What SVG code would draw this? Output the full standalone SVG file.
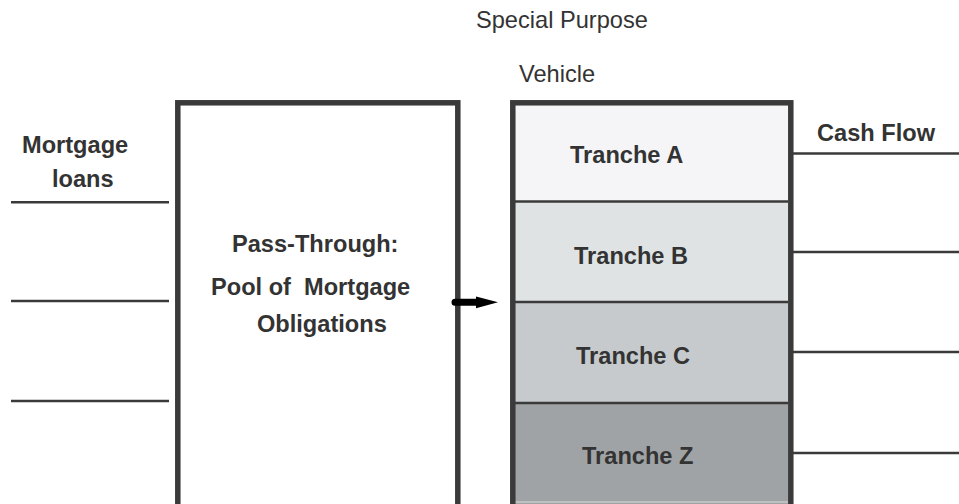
<svg xmlns="http://www.w3.org/2000/svg" width="959" height="504" viewBox="0 0 959 504">
<style>
.t{font-family:"Liberation Sans",Arial,sans-serif;font-size:23.6px;fill:#333}
.b{font-weight:bold}
.ln{stroke:#3a3a3a;stroke-width:2.5;fill:none}
.box{stroke:#3a3a3a;stroke-width:5.5;fill:#fff}
.div{stroke:#3a3a3a;stroke-width:2.5}
</style>
<rect width="959" height="504" fill="#fff"/>
<g id="title">
<text class="t" x="476" y="28">Special Purpose</text>
<text class="t" x="519" y="81.5">Vehicle</text>
</g>
<g id="mortgage-loans">
<text class="t b" x="22" y="153">Mortgage</text>
<text class="t b" x="52" y="187">loans</text>
</g>
<g id="pool">
<rect class="box" x="177.8" y="102.8" width="280" height="410"/>
<text class="t b" x="232" y="251.5">Pass-Through:</text>
<text class="t b" x="211" y="295" xml:space="preserve">Pool of  Mortgage</text>
<text class="t b" x="257" y="331.5">Obligations</text>
</g>
<g id="spv">
<rect x="513" y="103" width="275" height="99" fill="#f5f5f7"/>
<rect x="513" y="202" width="275" height="100" fill="#dfe3e3"/>
<rect x="513" y="302" width="275" height="101" fill="#c7cacc"/>
<rect x="513" y="403" width="275" height="101" fill="#a0a3a5"/>
<line class="div" x1="513" y1="201.5" x2="788" y2="201.5"/>
<line class="div" x1="513" y1="302" x2="788" y2="302"/>
<line class="div" x1="513" y1="403" x2="788" y2="403"/>
<line x1="513" y1="502" x2="788" y2="502" stroke="#c8c8c8" stroke-width="1.5"/>
<rect x="512.8" y="102.8" width="278" height="410" fill="none" stroke="#3a3a3a" stroke-width="5.5"/>
</g>
<g id="tranche-a"><text class="t b" x="570" y="162.5">Tranche A</text></g>
<g id="tranche-b"><text class="t b" x="574" y="264">Tranche B</text></g>
<g id="tranche-c"><text class="t b" x="576" y="363.5">Tranche C</text></g>
<g id="tranche-z"><text class="t b" x="582" y="463.5">Tranche Z</text></g>
<g id="cash-flow"><text class="t b" x="817" y="141">Cash Flow</text></g>
<g id="connectors">
<line class="ln" x1="11" y1="202.3" x2="169" y2="202.3"/>
<line class="ln" x1="11" y1="301" x2="169" y2="301"/>
<line class="ln" x1="11" y1="401" x2="169" y2="401"/>
<line class="ln" x1="793" y1="153.5" x2="959" y2="153.5"/>
<line class="ln" x1="793" y1="252" x2="959" y2="252"/>
<line class="ln" x1="793" y1="352" x2="959" y2="352"/>
<line class="ln" x1="793" y1="453" x2="959" y2="453"/>
<path d="M455 298.8 L476 298.8 L476 296.5 L498 302.3 L476 308.3 L476 305.8 L455 305.8 A3.5 3.5 0 0 1 455 298.8 Z" fill="#000"/>
</g>
</svg>
